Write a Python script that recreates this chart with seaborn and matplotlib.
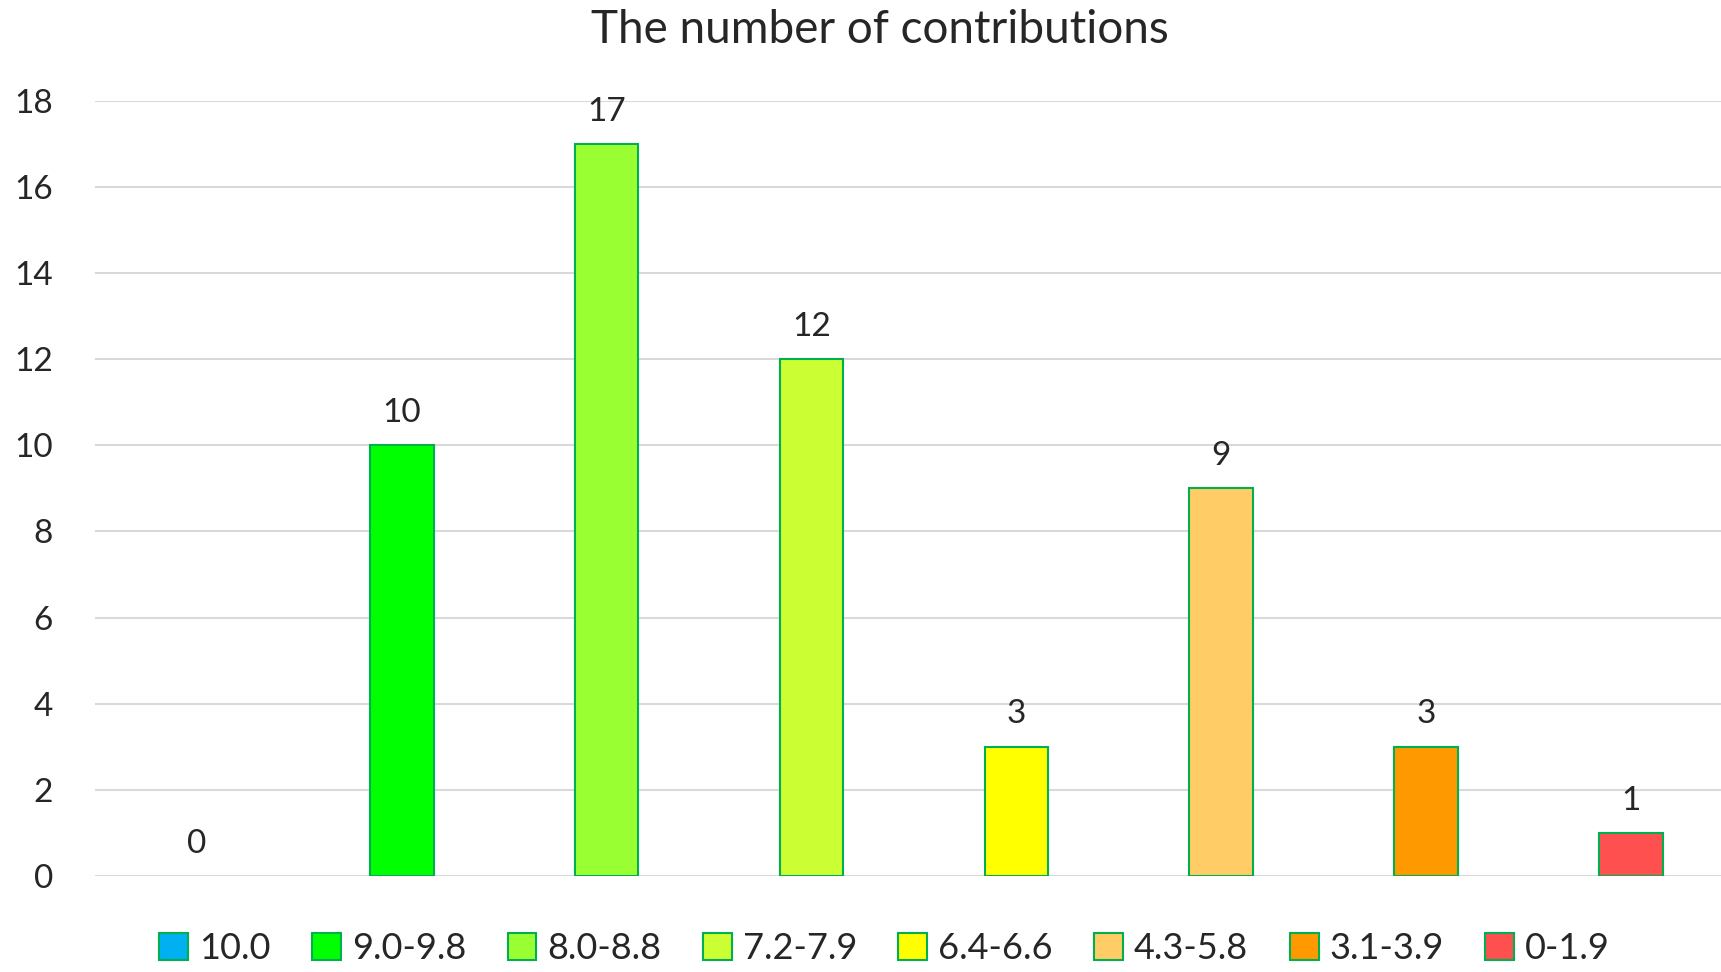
import matplotlib.pyplot as plt
import pandas as pd
import seaborn as sns

categories = ["10.0", "9.0-9.8", "8.0-8.8", "7.2-7.9", "6.4-6.6", "4.3-5.8", "3.1-3.9", "0-1.9"]
counts = [0, 10, 17, 12, 3, 9, 3, 1]
colors = ["#00B0F0", "#00FF00", "#99FF33", "#CCFF33", "#FFFF00", "#FFCC66", "#FF9900", "#FF5050"]
edge = "#00B050"

sns.set_style("white")
plt.rcParams['font.family'] = ['Lato', 'DejaVu Sans']

data = pd.DataFrame({"range": categories, "count": counts})

fig = plt.figure(figsize=(17.21, 9.72), dpi=100)
ax = fig.add_axes([0.055, 0.099, 0.945, 0.797])

sns.barplot(data=data, x="range", y="count", hue="range", palette=colors,
            order=categories, hue_order=categories, dodge=False, width=0.31,
            saturation=1, edgecolor=edge, linewidth=1.5, legend=False, ax=ax, zorder=3)

# hide the outline of empty bars
for p in ax.patches:
    if p.get_height() == 0:
        p.set_linewidth(0)

for i, v in enumerate(counts):
    ax.text(i, v + 0.4, str(v), ha="center", va="bottom", fontsize=24)

ax.set_ylim(0, 18)
ax.set_xlim(-0.5, 7.44)
ax.set_yticks(range(0, 19, 2))
ax.tick_params(axis="y", labelsize=24, length=0, pad=30)
ax.set_xticks([])
ax.set_xlabel("")
ax.set_ylabel("")
ax.yaxis.grid(True, color="#D9D9D9", linewidth=1.5, zorder=0)
for s in ax.spines.values():
    s.set_visible(False)

fig.text(0.511, 0.969, "The number of contributions", fontsize=33, ha="center", va="center")

handles = [plt.Rectangle((0, 0), 1, 1, facecolor=c, edgecolor=edge, linewidth=1.5) for c in colors]
fig.legend(handles, categories, loc="center", bbox_to_anchor=(0.514, 0.024), ncol=8,
           frameon=False, fontsize=26, handlelength=0.8, handleheight=0.8,
           handletextpad=0.3, columnspacing=1.15)

fig.savefig("out.png", dpi=100)
